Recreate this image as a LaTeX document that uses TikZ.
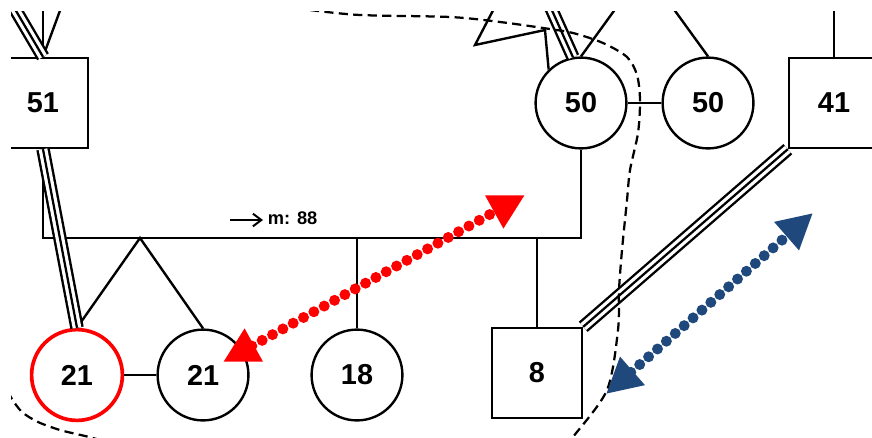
\documentclass[tikz,border=0pt]{standalone}
\usepackage{fontspec}
\setmainfont{Liberation Sans}
\usetikzlibrary{positioning,arrows.meta}

\definecolor{dotred}{RGB}{255,0,0}
\definecolor{dotblue}{RGB}{31,73,125}

\tikzset{
	every node/.style={font=\fontsize{20.5}{24}\selectfont\bfseries},
	male/.style={draw, line width=1.7pt, fill=white, minimum size=2.25cm, inner sep=0pt},
	female/.style={draw, circle, line width=1.7pt, fill=white, minimum size=2.27cm, inner sep=0pt},
	index/.style={female, draw=dotred, line width=2.6pt},
	rel/.style={line width=1.7pt},
	triple/.style={line width=9.6pt, postaction={draw=white, line width=6.2pt}, postaction={draw=black, line width=1.6pt}},
	bound/.style={line width=1.6pt, dash pattern=on 6.5pt off 3.8pt},
	dots/.style={line width=7.8pt, line cap=round, dash pattern=on 0pt off 8.4pt,
		{Triangle[length=25pt,width=25pt]}-{Triangle[length=25pt,width=25pt]}}
}

\begin{document}
\begin{tikzpicture}[x=0.025cm, y=0.025cm, on grid]
	\useasboundingbox (0,0) rectangle (872,437);
	\clip (11,0) rectangle (872,426);
	% parents
	\node[male] (m51) at (43,334) {51};
	\node[female] (f50a) at (581,334) {50};
	\node[female] (f50b) [right=3.175cm of f50a] {50};
	\node[male] (m41) at (834,334) {41};
	% children
	\node[index] (f21a) at (77,62) {21};
	\node[female] (f21b) [right=3.15cm of f21a] {21};
	\node[female] (f18) at (357,62) {18};
	\node[male] (m8) at (537,64) {8};
	% free ends above
	\coordinate (o51a) at (43,440);
	\coordinate (o51b) at (65,440);
	\coordinate (o51c) at (2,450);
	\coordinate (o50a) at (546,440);
	\coordinate (o50b) at (624,440);
	\coordinate (o50c) at (665,440);
	\coordinate (o41) at (834,440);
	\coordinate (tw1) at (545,407);
	\coordinate (tw2) at (475,392);
	\coordinate (tw3) at (500,440);
	\coordinate (bar) at (0,199);
	\coordinate (twin) at (140,199);
	% relations
	\draw[rel] (m51.south) -- (m51.south |- bar) -- (f50a.south |- bar) -- (f50a.south);
	\draw[rel] (f21a.north) -- (twin) -- (f21b.north);
	\draw[rel] (f18.north) -- (f18.north |- bar);
	\draw[rel] (m8.north) -- (m8.north |- bar);
	\draw[rel] (f50a) -- (f50b);
	\draw[rel] (f21a) -- (f21b);
	\draw[triple] (m51.south) -- (f21a.north);
	\draw[triple] (m41.south west) -- (m8.north east);
	\draw[rel] (m51.north) -- (o51a);
	\draw[rel] (m51.north) -- (o51b);
	\draw[triple] (m51.north) -- (o51c);
	\draw[triple] (f50a.100) -- (o50a);
	\draw[rel] (f50a.north) -- (o50b);
	\draw[rel] (f50b.north) -- (o50c);
	\draw[rel] (m41.north) -- (o41);
	\draw[rel] (f50a.134) -- (tw1) -- (tw2) -- (tw3);
	% label
	\coordinate (lblarr) at (230,217);
	\node[font=\fontsize{13}{15}\selectfont\bfseries, anchor=west] (lbl) at (263,219) {m: 88};
	\draw[-{Straight Barb[length=6pt,width=9pt]}, line width=1.4pt] (lblarr) -- (lblarr -| lbl.west);
	% boundary
	\draw[bound] plot[smooth] coordinates {(310,427) (360,422) (450,420) (500,415) (543,409) (573,404) (603,394) (627,380) (637,362) (640,337) (638,304) (630,267) (627,237) (622,187) (619,147) (618,107) (607,47) (573,0) (565,-10)};
	\draw[bound] plot[smooth] coordinates {(8,46) (12,38) (22,25) (38,15) (60,7) (85,1) (100,-3)};
	% arrows
	\coordinate (r1) at (223,75);
	\coordinate (r2) at (525,242);
	\coordinate (b1) at (606,43);
	\coordinate (b2) at (813,224);
	\draw[dots, dotred] (r1) -- (r2);
	\draw[dots, dotblue] (b1) -- (b2);
\end{tikzpicture}
\end{document}
